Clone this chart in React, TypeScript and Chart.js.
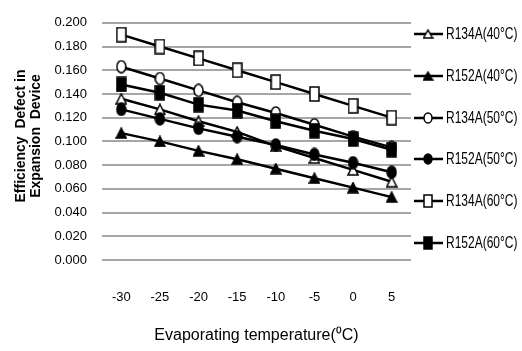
import React, { useEffect, useRef } from "react";
import { Chart, registerables } from "chart.js";

Chart.register(...registerables);

const categories = ["-30", "-25", "-20", "-15", "-10", "-5", "0", "5"];
const seriesNames = [
  "R134A(40°C)",
  "R152A(40°C)",
  "R134A(50°C)",
  "R152A(50°C)",
  "R134A(60°C)",
  "R152A(60°C)",
];
const r134a40 = [0.136, 0.127, 0.117, 0.108, 0.096, 0.086, 0.076, 0.066];
const r152a40 = [0.107, 0.1, 0.092, 0.085, 0.077, 0.069, 0.061, 0.053];
const r134a50 = [0.163, 0.153, 0.143, 0.133, 0.124, 0.114, 0.104, 0.095];
const r152a50 = [0.127, 0.119, 0.111, 0.104, 0.097, 0.089, 0.082, 0.074];
const r134a60 = [0.19, 0.18, 0.17, 0.16, 0.15, 0.14, 0.13, 0.12];
const r152a60 = [0.148, 0.141, 0.131, 0.126, 0.117, 0.109, 0.102, 0.093];
const yMin = 0;
const yMax = 0.2;
const yStep = 0.02;
const xTitle = "Evaporating temperature(⁰C)";
const yTitleLines = ["Efficiency  Defect in", "Expansion  Device"];

const seriesValues = [r134a40, r152a40, r134a50, r152a50, r134a60, r152a60];
const markerShapes = ["triangle", "triangle", "circle", "circle", "rect", "rect"];
const markerFilled = [false, true, false, true, false, true];

const FONT = "'Liberation Sans', Arial, sans-serif";

function makeMarker(shape: string, filled: boolean, small = false): HTMLCanvasElement {
  const c = document.createElement("canvas");
  let w = 11, h = 14;
  if (shape === "rect") { w = 11; h = 16; }
  if (shape === "triangle") { w = 12; h = 12; }
  if (small) { w -= 1; h -= 2; }
  c.width = w;
  c.height = h;
  const ctx = c.getContext("2d")!;
  ctx.lineWidth = 1.5;
  ctx.strokeStyle = "#000";
  ctx.fillStyle = filled ? "#000" : "#fff";
  ctx.beginPath();
  if (shape === "rect") {
    ctx.rect(1, 1, w - 2, h - 2);
  } else if (shape === "circle") {
    ctx.ellipse(w / 2, h / 2, w / 2 - 1, h / 2 - 1, 0, 0, Math.PI * 2);
  } else {
    ctx.moveTo(w / 2, 1);
    ctx.lineTo(w - 1, h - 1);
    ctx.lineTo(1, h - 1);
    ctx.closePath();
  }
  ctx.fill();
  ctx.stroke();
  return c;
}

export default function App() {
  const ref = useRef<HTMLCanvasElement>(null);
  useEffect(() => {
    document.body.style.margin = "0";
    const markers = markerShapes.map((s, i) => makeMarker(s, markerFilled[i]));
    const legendMarkers = markerShapes.map((s, i) => makeMarker(s, markerFilled[i], true));
    const legendYs = [34, 76, 118, 159, 201, 243];

    const extras = {
      id: "extras",
      afterDraw(chart: any) {
        const ctx = chart.ctx;
        ctx.save();
        // y title
        ctx.fillStyle = "#000";
        ctx.font = "bold 14px " + FONT;
        ctx.textAlign = "center";
        ctx.textBaseline = "middle";
        const xs = [21, 36];
        yTitleLines.forEach((t, i) => {
          ctx.save();
          ctx.translate(xs[i], 136);
          ctx.rotate(-Math.PI / 2);
          ctx.fillText(t, 0, 0);
          ctx.restore();
        });
        // legend
        ctx.font = "16px " + FONT;
        ctx.textAlign = "left";
        seriesNames.forEach((n, i) => {
          const y = legendYs[i];
          ctx.strokeStyle = "#000";
          ctx.lineWidth = 2.5;
          ctx.beginPath();
          ctx.moveTo(414, y);
          ctx.lineTo(443, y);
          ctx.stroke();
          const m = legendMarkers[i];
          ctx.drawImage(m, 428 - m.width / 2, y - m.height / 2);
          ctx.fillStyle = "#000";
          ctx.save();
          ctx.translate(446, y + 1);
          ctx.scale(0.75, 1);
          ctx.fillText(n, 0, 0);
          ctx.restore();
        });
        ctx.restore();
      },
    };

    const chart = new Chart(ref.current!, {
      type: "line",
      data: {
        labels: categories,
        datasets: seriesValues.map((vals, i) => ({
          label: seriesNames[i],
          data: vals,
          borderColor: "#000",
          borderWidth: 2.5,
          pointStyle: markers[i] as any,
          pointRadius: 6,
          order: seriesValues.length - i,
          tension: 0,
        })),
      },
      options: {
        animation: false,
        responsive: false,
        maintainAspectRatio: false,
        layout: { padding: { top: 15, right: 111, bottom: 0, left: 0 } },
        plugins: { legend: { display: false }, tooltip: { enabled: false } },
        scales: {
          x: {
            type: "category",
            offset: true,
            grid: { display: false, drawTicks: false },
            border: { display: false },
            ticks: {
              color: "#000",
              padding: 30,
              font: { family: FONT, size: 13 },
              maxRotation: 0,
            },
            title: {
              display: true,
              text: xTitle,
              color: "#000",
              padding: { top: 0, bottom: 6 },
              font: { family: FONT, size: 16 },
            },
            afterFit(scale: any) {
              scale.height = 91;
            },
          },
          y: {
            min: yMin,
            max: yMax,
            grid: { color: "#a6a6a6", lineWidth: 2, drawTicks: false },
            border: { display: false },
            ticks: {
              stepSize: yStep,
              color: "#000",
              padding: 15,
              font: { family: FONT, size: 13 },
              callback: (v: any) => Number(v).toFixed(3),
            },
            afterFit(scale: any) {
              scale.width = 102;
            },
          },
        },
      },
      plugins: [extras],
    });
    return () => chart.destroy();
  }, []);
  return (
    <div style={{ position: "fixed", left: 0, top: 0, width: 522, height: 351, background: "#fff" }}>
      <canvas ref={ref} width={522} height={351} style={{ width: 522, height: 351 }} />
    </div>
  );
}
